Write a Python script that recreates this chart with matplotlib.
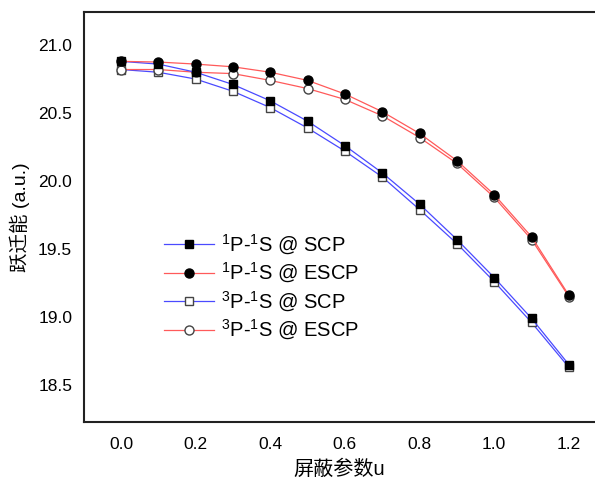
import matplotlib
matplotlib.use("Agg")
import matplotlib.pyplot as plt

u = [0.0, 0.1, 0.2, 0.3, 0.4, 0.5, 0.6, 0.7, 0.8, 0.9, 1.0, 1.1, 1.2]
p1_scp = [20.88, 20.86, 20.80, 20.71, 20.59, 20.44, 20.26, 20.06, 19.83, 19.57, 19.29, 18.99, 18.65]
p1_escp = [20.88, 20.875, 20.86, 20.84, 20.80, 20.74, 20.64, 20.51, 20.35, 20.15, 19.90, 19.59, 19.16]
p3_scp = [20.82, 20.80, 20.75, 20.66, 20.54, 20.39, 20.22, 20.03, 19.79, 19.54, 19.26, 18.96, 18.63]
p3_escp = [20.82, 20.82, 20.80, 20.79, 20.74, 20.68, 20.60, 20.48, 20.32, 20.13, 19.88, 19.57, 19.15]

labels = [r"$^{1}$P-$^{1}$S @ SCP", r"$^{1}$P-$^{1}$S @ ESCP",
          r"$^{3}$P-$^{1}$S @ SCP", r"$^{3}$P-$^{1}$S @ ESCP"]
xticks = [0.0, 0.2, 0.4, 0.6, 0.8, 1.0, 1.2]
yticks = [18.5, 19.0, 19.5, 20.0, 20.5, 21.0]

plt.rcParams['font.family'] = ['Liberation Sans', 'Noto Sans CJK SC', 'DejaVu Sans']
plt.rcParams['mathtext.fontset'] = 'custom'
plt.rcParams['mathtext.rm'] = 'Liberation Sans'

fig = plt.figure(figsize=(5.95, 4.84), dpi=100)
ax = fig.add_axes([84/595, 62/484, 1 - 84/595, (422-12)/484])

blue = '#4a4aff'
red = '#ff5a5a'
ax.plot(u, p1_scp, color=blue, lw=0.9, marker='s', ms=6, mfc='black', mec='black', label=labels[0], zorder=3)
ax.plot(u, p1_escp, color=red, lw=0.9, marker='o', ms=6.5, mfc='black', mec='black', label=labels[1], zorder=3)
ax.plot(u, p3_scp, color=blue, lw=0.9, marker='s', ms=6, mfc='white', mec='#444444', mew=1.0, label=labels[2], zorder=2)
ax.plot(u, p3_escp, color=red, lw=0.9, marker='o', ms=6.5, mfc='white', mec='#444444', mew=1.0, label=labels[3], zorder=2)

ax.set_xlim(-0.099, 1.27)
ax.set_ylim(18.228, 21.243)
ax.set_xticks(xticks)
ax.set_xticklabels([f"{t:.1f}" for t in xticks])
ax.set_yticks(yticks)
ax.set_yticklabels([f"{t:.1f}" for t in yticks])
ax.tick_params(length=0, labelsize=12.5)
ax.tick_params(axis='y', pad=8.5)
ax.tick_params(axis='x', pad=11)
for s in ['left', 'bottom', 'top']:
    ax.spines[s].set_linewidth(1.5)
    ax.spines[s].set_color('#222222')
ax.spines['right'].set_visible(False)

ax.set_xlabel("屏蔽参数u", fontsize=14.5, labelpad=5)
ax.set_ylabel("跃迁能 (a.u.)", fontsize=14, labelpad=6)

leg = ax.legend(loc='upper left', bbox_to_anchor=(0.14, 0.482), frameon=False, fontsize=14.5,
                numpoints=1, handlelength=2.5, handletextpad=0.35, labelspacing=0.2, borderaxespad=0)

fig.savefig("out.png", dpi=100)
